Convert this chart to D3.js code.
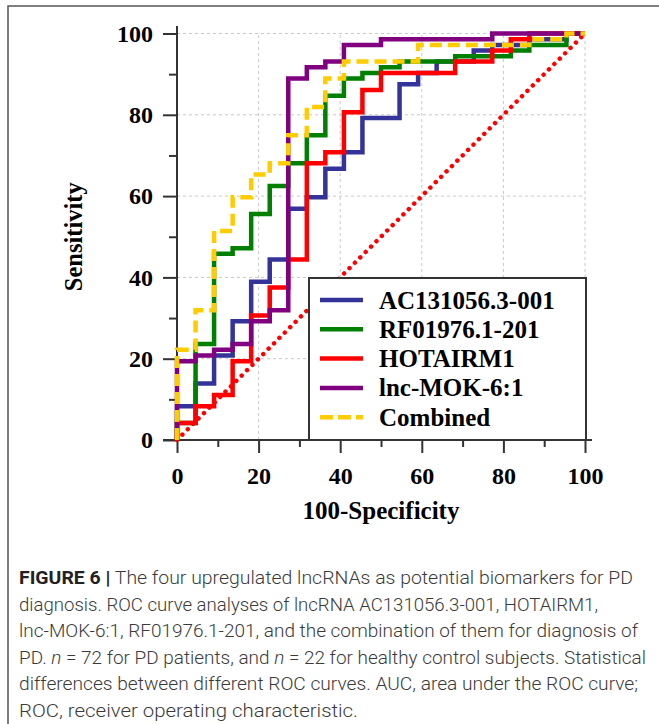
<!DOCTYPE html>
<html>
<head>
<meta charset="utf-8">
<script src="https://cdn.jsdelivr.net/npm/d3@7"></script>
<style>
  body { margin: 0; background: #fff; }
  svg { display: block; }
</style>
</head>
<body>
<script>
// series names / colours
var seriesNames = ["AC131056.3-001", "RF01976.1-201", "HOTAIRM1", "lnc-MOK-6:1", "Combined"];
var seriesColors = ["#333399", "#008000", "#ff0000", "#800080", "#ffcc00"];

// ROC steps: [100-specificity, sensitivity] (%), sensitivity reached at that x
var rocAC = [[0,0],[0,8.3],[4.55,13.9],[9.09,20.8],[13.64,29.2],[18.18,38.9],[22.73,44.4],[27.27,56.9],[31.82,59.7],[36.36,66.7],[40.91,70.8],[45.45,79.2],[54.55,87.5],[59.09,90.3],[63.64,93.1],[72.73,95.8],[77.27,97.2],[86.36,98.6],[95.45,100],[100,100]];
var rocRF = [[0,0],[0,4.2],[4.55,23.6],[9.09,45.8],[13.64,47.2],[18.18,55.6],[22.73,62.5],[27.27,68.1],[31.82,75.0],[36.36,84.7],[40.91,88.9],[45.45,90.3],[50,91.7],[54.55,93.1],[68.18,94.4],[81.82,95.8],[86.36,97.2],[95.45,100],[100,100]];
var rocHOT = [[0,0],[0,4.2],[4.55,8.3],[9.09,11.1],[13.64,19.4],[18.18,30.6],[22.73,37.5],[27.27,44.4],[31.82,68.1],[36.36,70.8],[40.91,80.6],[45.45,86.1],[50,90.3],[68.18,93.1],[77.27,95.8],[81.82,98.6],[86.36,100],[100,100]];
var rocMOK = [[0,0],[0,19.4],[4.55,20.8],[9.09,22.2],[13.64,23.6],[18.18,29.2],[22.73,31.9],[27.27,88.9],[31.82,91.7],[36.36,93.1],[40.91,97.2],[50,98.6],[77.27,100],[100,100]];
var rocComb = [[0,0],[0,22.2],[4.55,31.9],[9.09,51.4],[13.64,59.7],[18.18,65.3],[22.73,68.1],[27.27,75.0],[31.82,81.9],[36.36,88.9],[40.91,93.1],[59.09,97.2],[86.36,98.6],[95.45,100],[100,100]];
var reference = [[0,0],[100,100]];

var majorTicks = [0, 20, 40, 60, 80, 100];
var minorTicks = [10, 30, 50, 70, 90];

var captionLines = [
  [["FIGURE 6 |", "bold"], [" The four upregulated lncRNAs as potential biomarkers for PD", ""]],
  [["diagnosis. ROC curve analyses of lncRNA AC131056.3-001, HOTAIRM1,", ""]],
  [["lnc-MOK-6:1, RF01976.1-201, and the combination of them for diagnosis of", ""]],
  [["PD. ", ""], ["n", "italic"], [" = 72 for PD patients, and ", ""], ["n", "italic"], [" = 22 for healthy control subjects. Statistical", ""]],
  [["differences between different ROC curves. AUC, area under the ROC curve;", ""]],
  [["ROC, receiver operating characteristic.", ""]]
];
var captionWidths = [614, 579, 619, 627, 619, 339];

var width = 659, height = 724;
var svg = d3.select("body").append("svg").attr("width", width).attr("height", height);

// figure frame (top + left visible)
svg.append("rect")
  .attr("x", 8).attr("y", 6).attr("width", 700).attr("height", 800)
  .attr("fill", "none").attr("stroke", "#555").attr("stroke-width", 1.5);

var x = d3.scaleLinear().domain([0, 100]).range([177, 585]);
var y = d3.scaleLinear().domain([0, 100]).range([440, 33.5]);
var serif = "'Liberation Serif', 'Times New Roman', serif";

// grid
var grid = svg.append("g").attr("stroke", "#c8c8c8").attr("stroke-width", 1).attr("stroke-dasharray", "3,3");
majorTicks.filter(function(d){ return d > 0; }).forEach(function(d){
  grid.append("line").attr("x1", x(d)).attr("x2", x(d)).attr("y1", y(0)).attr("y2", y(100));
  grid.append("line").attr("x1", x(0)).attr("x2", x(100)).attr("y1", y(d)).attr("y2", y(d));
});

// axes
var xAxis = svg.append("g").attr("transform", "translate(0," + y(0) + ")")
  .call(d3.axisBottom(x).tickValues(majorTicks).tickSize(13).tickSizeOuter(0).tickPadding(14));
var xMinor = svg.append("g").attr("transform", "translate(0," + y(0) + ")")
  .call(d3.axisBottom(x).tickValues(minorTicks).tickSize(7).tickFormat(""));
var yAxis = svg.append("g").attr("transform", "translate(" + x(0) + ",0)")
  .call(d3.axisLeft(y).tickValues(majorTicks).tickSize(14).tickSizeOuter(0).tickPadding(10));
var yMinor = svg.append("g").attr("transform", "translate(" + x(0) + ",0)")
  .call(d3.axisLeft(y).tickValues(minorTicks).tickSize(8).tickFormat(""));

xMinor.select(".domain").remove();
yMinor.select(".domain").remove();
xAxis.select(".domain").attr("d", "M" + (x(0) - 14) + ",0H" + (x(100) + 7));
yAxis.select(".domain").attr("d", "M0," + (y(100) - 7.5) + "V" + y(0));

[xAxis, xMinor, yAxis, yMinor].forEach(function(g){
  g.selectAll(".domain, .tick line").attr("stroke", "#333").attr("stroke-width", 2);
  g.selectAll("text").attr("font-family", serif).attr("font-weight", "bold")
    .attr("font-size", 24).attr("fill", "#000");
});

// axis titles
svg.append("text")
  .attr("x", (x(0) + x(100)) / 2).attr("y", 519)
  .attr("text-anchor", "middle").attr("font-family", serif).attr("font-weight", "bold")
  .attr("font-size", 25).text("100-Specificity");
svg.append("text")
  .attr("transform", "translate(82," + ((y(0) + y(100)) / 2) + ") rotate(-90)")
  .attr("text-anchor", "middle").attr("font-family", serif).attr("font-weight", "bold")
  .attr("font-size", 24.5).text("Sensitivity");

// chance line
var straight = d3.line().x(function(d){ return x(d[0]); }).y(function(d){ return y(d[1]); });
svg.append("path")
  .attr("d", straight(reference))
  .attr("fill", "none").attr("stroke", "#ff0000").attr("stroke-width", 4.5)
  .attr("stroke-linecap", "round").attr("stroke-dasharray", "0.01,7.6");

// ROC curves
var step = d3.line().curve(d3.curveStepAfter)
  .x(function(d){ return x(d[0]); }).y(function(d){ return y(d[1]); });
var rocs = [rocAC, rocRF, rocHOT, rocMOK, rocComb];
rocs.forEach(function(roc, i){
  svg.append("path")
    .attr("d", step(roc))
    .attr("fill", "none")
    .attr("stroke", seriesColors[i])
    .attr("stroke-width", 4.5)
    .attr("stroke-dasharray", i == 4 ? "12,6" : null);
});

// legend
var legend = svg.append("g");
legend.append("rect")
  .attr("x", 309).attr("y", 278).attr("width", 277).attr("height", y(0) - 278)
  .attr("fill", "#fff").attr("stroke", "#333").attr("stroke-width", 2);
seriesNames.forEach(function(name, i){
  var ly = 300 + i * 29.3;
  legend.append("line")
    .attr("x1", 320).attr("x2", 363).attr("y1", ly).attr("y2", ly)
    .attr("stroke", seriesColors[i]).attr("stroke-width", 4.5)
    .attr("stroke-dasharray", i == 4 ? "13,5" : null);
  legend.append("text")
    .attr("x", 379).attr("y", ly + 8.5)
    .attr("font-family", serif).attr("font-weight", "bold").attr("font-size", 25)
    .text(name);
});

// caption
captionLines.forEach(function(parts, i){
  var t = svg.append("text")
    .attr("x", 19).attr("y", 584 + i * 26.6)
    .attr("font-family", "Roboto, 'Liberation Sans', sans-serif")
    .attr("font-size", 17.5).attr("font-weight", 300).attr("fill", "#3a3a3a")
    .attr("textLength", captionWidths[i]).attr("lengthAdjust", "spacingAndGlyphs");
  parts.forEach(function(p){
    var s = t.append("tspan").text(p[0]);
    if (p[1] == "bold") s.attr("font-weight", "bold").attr("fill", "#222");
    if (p[1] == "italic") s.attr("font-style", "italic");
  });
});
</script>
</body>
</html>
